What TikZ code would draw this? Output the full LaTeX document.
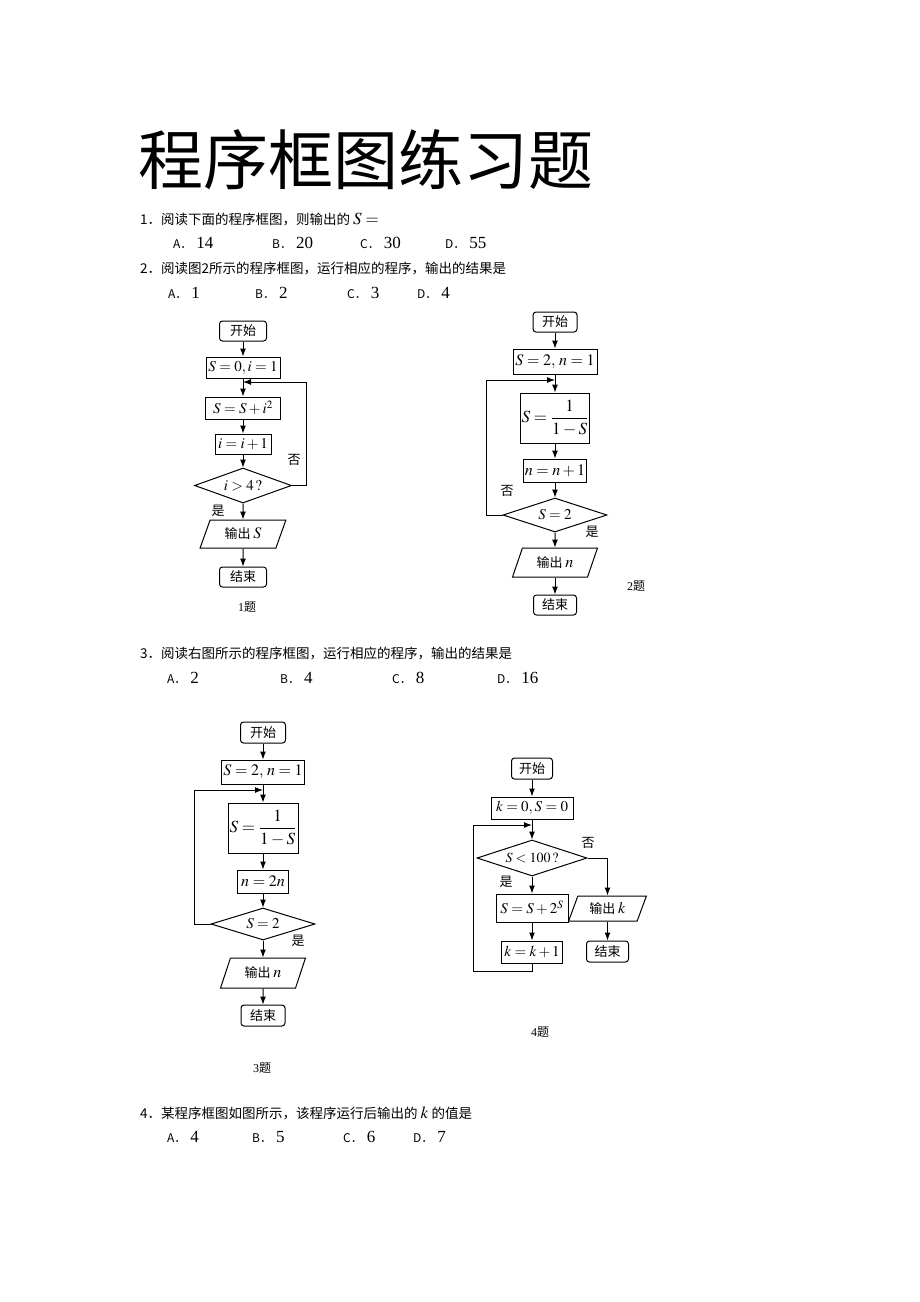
\documentclass[tikz,border=0pt]{standalone}
\usepackage{mathptmx}
\usepackage[no-math]{fontspec}
\setmainfont{Liberation Serif}
\newfontfamily\cjk{Noto Sans CJK SC}
\usetikzlibrary{shapes,arrows.meta,positioning}

\tikzset{
    startstop/.style={
        draw,
        line width=1pt,
        rounded corners=3pt,
        inner sep=0pt,
        font=\cjk\fontsize{13}{13}\selectfont
    },
    process/.style={
        draw,
        line width=1pt,
        inner sep=0pt,
        font=\fontsize{15}{15}\selectfont
    },
    decision/.style={
        draw,
        line width=1pt,
        diamond,
        aspect=3,
        inner sep=0pt,
        font=\fontsize{15}{15}\selectfont
    },
    io/.style={
        draw,
        line width=1pt,
        trapezium,
        trapezium left angle=65,
        trapezium right angle=115,
        trapezium stretches=true,
        inner sep=0pt,
        font=\fontsize{16}{16}\selectfont
    },
    flow/.style={line width=1pt, -{Latex[length=8pt,width=6pt]}},
    yesno/.style={inner sep=0pt, font=\cjk\fontsize{13}{13}\selectfont},
    question/.style={anchor=west, inner sep=0pt, font=\cjk\fontsize{13.5}{14}\selectfont},
    answer/.style={anchor=west, inner sep=0pt, font=\cjk\fontsize{12}{12}\selectfont},
    caption/.style={inner sep=0pt, font=\fontsize{12}{12}\selectfont}
}
\newcommand{\val}[1]{\hspace{4pt}{\rmfamily\fontsize{17}{17}\selectfont #1}}

\begin{document}
\begin{tikzpicture}[x=1pt, y=-1pt]
    \useasboundingbox (0,0) rectangle (920,1302);

    \node[anchor=west, inner sep=0pt, font=\cjk\fontsize{65}{65}\selectfont] (title) at (138,160) {程序框图练习题};

    \node[question] (q1) at (140,220) {1．阅读下面的程序框图，则输出的 {\rmfamily\fontsize{17}{17}\selectfont$S=$}};
    \node[answer] (q1a) at (173,243) {A．\val{14}};
    \node[answer] (q1b) at (272,243) {B．\val{20}};
    \node[answer] (q1c) at (360,243) {C．\val{30}};
    \node[answer] (q1d) at (445,243) {D．\val{55}};

    \node[question] (q2) at (140,268) {2．阅读图2所示的程序框图，运行相应的程序，输出的结果是};
    \node[answer] (q2a) at (168,293) {A．\val{1}};
    \node[answer] (q2b) at (255,293) {B．\val{2}};
    \node[answer] (q2c) at (347,293) {C．\val{3}};
    \node[answer] (q2d) at (417,293) {D．\val{4}};

    % chart 1
    \node[startstop, minimum width=47pt, minimum height=20pt] (s1) at (243,331) {开始};
    \node[process, minimum width=74pt, minimum height=21pt] (init1) at (243,367.5) {$S=0,i=1$};
    \node[process, minimum width=75pt, minimum height=22pt] (add1) at (243,408) {$S=S+i^2$};
    \node[process, minimum width=56pt, minimum height=20pt] (inc1) at (243,444) {$i=i+1$};
    \node[decision, minimum width=97pt, minimum height=35pt] (dec1) at (243,485.5) {$i>4\,?$};
    \node[io, minimum width=86pt, minimum height=28pt] (out1) at (243,534) {{\cjk\fontsize{13}{13}\selectfont 输出}\,$S$};
    \node[startstop, minimum width=47pt, minimum height=20pt] (end1) at (243,577) {结束};
    \coordinate (j1) at (243,382);
    \node[yesno] (no1) at (294,460) {否};
    \node[yesno] (yes1) at (218,511) {是};
    \node[caption] (cap1) at (247,607) {1{\cjk 题}};

    \draw[flow] (s1) -- (init1);
    \draw[flow] (init1) -- (add1);
    \draw[flow] (add1) -- (inc1);
    \draw[flow] (inc1) -- (dec1);
    \draw[flow] (dec1) -- (out1);
    \draw[flow] (out1) -- (end1);
    \draw[flow] (dec1.east) -- ++(14,0) |- (j1);

    % chart 2
    \node[startstop, minimum width=44pt, minimum height=20pt] (s2) at (555,322) {开始};
    \node[process, minimum width=84pt, minimum height=25pt, font=\fontsize{16}{16}\selectfont] (init2) at (555,361.5) {$S=2,\,n=1$};
    \node[process, minimum width=69pt, minimum height=50pt, font=\fontsize{17}{17}\selectfont] (frac2) at (555,418) {$S=\displaystyle\frac{1}{1-S}$};
    \node[process, minimum width=63pt, minimum height=23pt, font=\fontsize{16}{16}\selectfont] (inc2) at (555,470.5) {$n=n+1$};
    \node[decision, minimum width=104pt, minimum height=34pt] (dec2) at (555,515) {$S=2$};
    \node[io, minimum width=85pt, minimum height=29pt] (out2) at (555,562.5) {{\cjk\fontsize{13}{13}\selectfont 输出}\,$n$};
    \node[startstop, minimum width=43pt, minimum height=20pt] (end2) at (555,605) {结束};
    \coordinate (j2) at (555,380);
    \node[yesno] (no2) at (507,491) {否};
    \node[yesno] (yes2) at (592,532) {是};
    \node[caption] (cap2) at (636,586) {2{\cjk 题}};

    \draw[flow] (s2) -- (init2);
    \draw[flow] (init2) -- (frac2);
    \draw[flow] (frac2) -- (inc2);
    \draw[flow] (inc2) -- (dec2);
    \draw[flow] (dec2) -- (out2);
    \draw[flow] (out2) -- (end2);
    \draw[flow] (dec2.west) -- ++(-16,0) |- (j2);

    \node[question] (q3) at (140,653) {3．阅读右图所示的程序框图，运行相应的程序，输出的结果是};
    \node[answer] (q3a) at (167,678) {A．\val{2}};
    \node[answer] (q3b) at (280,678) {B．\val{4}};
    \node[answer] (q3c) at (392,678) {C．\val{8}};
    \node[answer] (q3d) at (497,678) {D．\val{16}};

    % chart 3
    \node[startstop, minimum width=45pt, minimum height=21pt] (s3) at (263,732.5) {开始};
    \node[process, minimum width=83pt, minimum height=24pt, font=\fontsize{16}{16}\selectfont] (init3) at (263,772) {$S=2,\,n=1$};
    \node[process, minimum width=70pt, minimum height=50pt, font=\fontsize{17}{17}\selectfont] (frac3) at (263,828) {$S=\displaystyle\frac{1}{1-S}$};
    \node[process, minimum width=51pt, minimum height=23pt, font=\fontsize{16}{16}\selectfont] (dbl3) at (263,881.5) {$n=2n$};
    \node[decision, minimum width=104pt, minimum height=32pt] (dec3) at (263,924) {$S=2$};
    \node[io, minimum width=85pt, minimum height=30pt] (out3) at (263,973) {{\cjk\fontsize{13}{13}\selectfont 输出}\,$n$};
    \node[startstop, minimum width=44pt, minimum height=21pt] (end3) at (263,1015.5) {结束};
    \coordinate (j3) at (263,790);
    \node[yesno] (yes3) at (298,941) {是};
    \node[caption] (cap3) at (262,1068) {3{\cjk 题}};

    \draw[flow] (s3) -- (init3);
    \draw[flow] (init3) -- (frac3);
    \draw[flow] (frac3) -- (dbl3);
    \draw[flow] (dbl3) -- (dec3);
    \draw[flow] (dec3) -- (out3);
    \draw[flow] (out3) -- (end3);
    \draw[flow] (dec3.west) -- ++(-16,0) |- (j3);

    % chart 4
    \node[startstop, minimum width=41pt, minimum height=21pt] (s4) at (532,768.5) {开始};
    \node[process, minimum width=82pt, minimum height=22pt] (init4) at (532,808) {$k=0,S=0$};
    \node[decision, minimum width=110pt, minimum height=36pt, font=\fontsize{14}{14}\selectfont] (dec4) at (532,858) {$S<100\,?$};
    \node[process, minimum width=72pt, minimum height=28pt] (add4) at (532,908) {$S=S+2^S$};
    \node[process, minimum width=61pt, minimum height=22pt] (inc4) at (532,952) {$k=k+1$};
    \node[io, minimum width=78pt, minimum height=25pt] (out4) at (607.5,908.5) {{\cjk\fontsize{13}{13}\selectfont 输出}\,$k$};
    \node[startstop, minimum width=42pt, minimum height=21pt] (end4) at (607.5,951.5) {结束};
    \coordinate (j4) at (532,825);
    \node[yesno] (no4) at (588,843) {否};
    \node[yesno] (yes4) at (506,882) {是};
    \node[caption] (cap4) at (540,1032) {4{\cjk 题}};

    \draw[flow] (s4) -- (init4);
    \draw[flow] (init4) -- (dec4);
    \draw[flow] (dec4) -- (add4);
    \draw[flow] (add4) -- (inc4);
    \draw[flow] (inc4.south) -- ++(0,8) -- ++(-59,0) |- (j4);
    \draw[flow] (dec4.east) -| (out4.north);
    \draw[flow] (out4) -- (end4);

    \node[question] (q4) at (140,1113) {4．某程序框图如图所示，该程序运行后输出的 {\rmfamily\fontsize{17}{17}\selectfont$k$} 的值是};
    \node[answer] (q4a) at (167,1137) {A．\val{4}};
    \node[answer] (q4b) at (252,1137) {B．\val{5}};
    \node[answer] (q4c) at (343,1137) {C．\val{6}};
    \node[answer] (q4d) at (413,1137) {D．\val{7}};
\end{tikzpicture}
\end{document}
